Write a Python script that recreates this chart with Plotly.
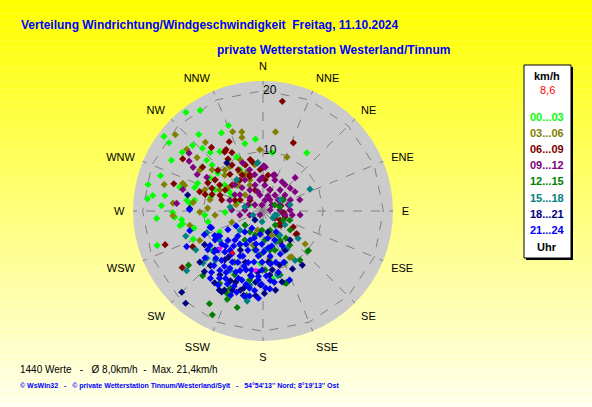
import numpy as np
import plotly.graph_objects as go

W, H = 592, 407

# wind direction (deg) / speed (km/h), grouped by time of day
dir_00_03 = [322, 328, 307, 306, 338, 354, 9, 37, 59, 283, 252, 266, 278, 273, 299, 289, 306, 313, 320, 332,
             345, 316, 286, 266, 261, 312, 310, 276, 334, 173, 304, 297, 294, 331, 326, 302, 279, 266, 244, 295,
             232, 260, 264, 276, 279, 269, 318, 324, 312, 306, 323, 278, 289, 183, 172, 285, 300, 315, 290, 256,
             248, 293, 259, 268]
spd_00_03 = [20.8, 19.7, 20.6, 19.3, 15.3, 12.0, 9.8, 12.1, 3.9, 19.6, 18.5, 17.7, 18.5, 16.9, 17.4, 18.0, 16.6, 16.0, 16.6, 14.7,
             11.6, 14.5, 14.4, 14.7, 13.5, 12.6, 9.8, 12.2, 10.0, 11.6, 7.7, 5.8, 8.7, 7.8, 10.3, 10.4, 11.5, 9.7, 8.0, 2.4,
             10.7, 14.0, 13.6, 19.3, 16.5, 15.0, 13.1, 12.2, 11.4, 12.5, 9.2, 12.8, 12.0, 8.7, 11.4, 9.0, 6.5, 6.0, 4.5, 11.8,
             12.5, 11.8, 9.3, 6.3]

dir_03_06 = [311, 345, 339, 9, 24, 309, 320, 285, 275, 267, 309, 309, 323, 329, 337, 243, 245, 128, 148, 196,
             160, 150, 296, 288, 282, 316, 313, 312, 265, 290, 333, 269, 259, 250, 350, 336, 357, 303, 288, 0,
             289, 344, 317, 338, 277, 195, 169, 172, 303, 303, 283, 273, 333]
spd_03_06 = [19.3, 13.6, 14.1, 13.3, 9.8, 16.3, 14.9, 17.0, 15.0, 15.0, 14.1, 10.9, 9.2, 7.5, 5.6, 13.1, 11.6, 8.9, 9.0, 5.9,
             4.3, 8.9, 8.0, 5.8, 9.0, 6.0, 8.7, 4.0, 8.0, 10.3, 4.8, 10.5, 12.4, 5.5, 7.8, 9.3, 10.2, 12.5, 13.7, 7.2,
             14.1, 12.7, 9.3, 7.0, 11.7, 3.3, 6.1, 7.9, 7.0, 9.5, 4.6, 9.2, 6.7]

dir_06_09 = [10, 24, 329, 332, 321, 303, 306, 235, 251, 118, 125, 98, 118, 128, 287, 318, 323, 340, 339, 290,
             291, 339, 356, 4, 18, 303, 299, 286, 310, 105, 120, 131, 151, 124, 243, 334, 8, 327, 326, 329,
             339, 297, 287, 301, 288, 348, 0, 74, 95, 310, 330, 285, 294, 326, 346, 296, 312]
spd_06_09 = [18.5, 12.4, 11.9, 11.0, 13.6, 15.9, 12.4, 16.4, 17.2, 5.7, 6.7, 3.4, 3.2, 3.8, 15.5, 8.2, 6.4, 6.4, 3.7, 7.6,
             5.0, 8.2, 6.9, 5.2, 3.7, 9.5, 7.2, 10.0, 2.8, 3.8, 2.3, 3.5, 5.9, 6.8, 13.1, 12.8, 6.0, 11.7, 10.4, 8.0,
             6.1, 10.3, 11.0, 8.4, 8.9, 8.3, 5.5, 3.1, 3.5, 6.7, 6.9, 7.1, 9.3, 9.2, 8.8, 4.2, 10.1]

dir_09_12 = [308, 302, 0, 16, 301, 275, 285, 304, 337, 1, 328, 349, 32, 71, 307, 273, 305, 4, 37, 54,
             88, 82, 313, 347, 40, 68, 288, 253, 217, 21, 59, 96, 59, 3, 299, 10, 39, 343, 330, 50,
             73, 100, 18, 354, 300, 18, 342, 44, 260, 345, 18, 54, 76, 350, 315, 318, 358, 33, 56,
             98, 292, 272, 87]
spd_09_12 = [15.6, 13.7, 7.3, 6.2, 10.9, 14.4, 13.8, 14.8, 8.7, 7.5, 4.1, 2.7, 2.2, 3.0, 1.7, 3.0, 4.7, 4.3, 3.3, 4.5,
             4.5, 1.2, 6.4, 6.2, 5.7, 4.9, 5.8, 2.3, 0.8, 5.5, 6.2, 6.2, 3.9, 7.3, 12.5, 1.8, 4.5, 4.5, 6.0, 5.9,
             6.4, 3.7, 3.7, 5.2, 5.4, 6.3, 7.2, 7.7, 3.9, 3.3, 2.6, 3.1, 4.3, 1.0, 3.1, 5.2, 5.5, 5.8, 1.8,
             4.9, 2.7, 5.2, 2.8]

dir_12_15 = [206, 210, 195, 234, 223, 204, 132, 163, 202, 160, 150, 198, 232, 163, 142, 184, 157, 214, 178, 125,
             114, 191, 143, 204, 211, 77, 61, 109, 63, 131, 162, 191, 203, 176, 192, 212, 139, 172, 209, 165,
             183, 148, 140, 212, 170]
spd_12_15 = [19.2, 17.8, 16.6, 15.3, 14.7, 14.9, 10.0, 12.5, 15.8, 3.4, 5.6, 4.2, 3.8, 6.8, 7.2, 7.3, 9.3, 6.8, 9.8, 5.5,
             3.7, 11.7, 10.2, 11.6, 14.0, 2.9, 3.8, 4.7, 2.2, 10.0, 12.6, 14.3, 14.0, 4.8, 6.6, 5.7, 3.1, 8.6, 9.7, 11.0,
             3.2, 4.7, 5.9, 4.1, 6.6]

dir_15_18 = [65, 128, 151, 167, 147, 157, 232, 252, 190, 229, 167, 148, 57, 77, 109, 150, 145, 125, 106, 354,
             320, 277, 353, 283, 248, 236, 224, 190, 177, 230, 249, 209, 240, 230, 185, 122]
spd_15_18 = [8.6, 7.4, 7.2, 10.8, 9.8, 5.6, 16.1, 13.5, 15.2, 13.2, 11.0, 7.5, 3.4, 4.6, 2.1, 7.3, 4.9, 2.0, 2.4, 8.1,
             6.8, 5.5, 8.0, 3.1, 1.8, 8.7, 11.4, 12.5, 6.5, 5.0, 10.0, 11.3, 12.9, 12.2, 1.8, 4.3]

dir_18_21 = [225, 220, 144, 153, 207, 194, 323, 282, 272, 205, 196, 214, 191, 182, 174, 163, 224, 218, 199, 231,
             240, 151, 137, 201, 185, 171, 231, 174, 210, 185, 209, 222, 167, 206, 193, 179, 165, 214, 201,
             186, 171, 224, 217]
spd_18_21 = [19.1, 20.0, 11.1, 10.8, 15.1, 13.2, 10.0, 12.8, 12.2, 12.8, 13.7, 12.8, 10.9, 12.3, 10.7, 9.4, 12.6, 10.3, 9.0, 10.3,
             11.2, 7.5, 6.6, 14.1, 14.1, 13.3, 13.5, 8.5, 7.5, 10.2, 15.0, 2.0, 3.6, 14.6, 14.4, 13.7, 12.2, 14.4, 12.7,
             11.9, 9.9, 14.0, 9.6]

dir_21_24 = [248, 252, 240, 242, 241, 221, 213, 187, 170, 148, 237, 229, 227, 216, 215, 201, 192, 179, 166, 158,
             231, 222, 220, 210, 206, 196, 190, 181, 172, 166, 218, 211, 209, 201, 197, 190, 184, 178, 171, 201,
             192, 183, 223, 224, 204, 204, 204, 230, 239, 186, 177, 190, 216, 201, 158, 159, 175, 255, 245, 253,
             243, 271, 235, 225, 215, 211, 207, 196, 190, 181, 171, 166, 220, 213, 206, 200, 193, 186, 181, 174,
             198, 189, 231, 220, 225, 207, 198, 182, 172, 158, 151, 241, 199, 191, 211, 220, 184, 230]
spd_21_24 = [10.5, 9.0, 8.3, 6.6, 5.1, 4.6, 3.4, 3.9, 4.6, 4.1, 10.5, 9.9, 8.5, 8.8, 6.7, 7.0, 5.6, 6.8, 6.0, 7.7,
             12.4, 12.2, 10.7, 11.0, 9.5, 10.2, 8.6, 9.8, 8.9, 10.5, 14.2, 14.4, 12.8, 13.4, 12.0, 13.0, 11.5, 12.8, 12.0, 15.0,
             14.5, 14.5, 9.3, 6.7, 8.2, 5.3, 11.1, 7.6, 9.3, 7.5, 10.8, 11.0, 12.2, 10.6, 9.2, 12.3, 13.0, 12.6, 14.0, 9.2,
             9.0, 12.2, 11.2, 11.1, 11.2, 9.9, 8.4, 8.9, 6.6, 8.5, 7.6, 8.8, 13.3, 13.3, 13.5, 11.9, 12.5, 13.3, 12.2, 11.6,
             14.2, 14.3, 8.8, 8.5, 5.9, 6.2, 4.7, 5.5, 6.2, 5.2, 6.6, 8.6, 9.7, 10.0, 11.9, 7.6, 10.9, 10.6]

dir_extra = [229, 187]
spd_extra = [9.5, 9.9]
dir_current = [216]
spd_current = [8.6]

hour_labels = ["00...03", "03...06", "06...09", "09...12", "12...15", "15...18", "18...21", "21...24"]
hour_colors = ["#00ff00", "#808000", "#800000", "#800080", "#008000", "#008080", "#000080", "#0000ff"]
group_dirs = [dir_00_03, dir_03_06, dir_06_09, dir_09_12, dir_12_15, dir_15_18, dir_18_21, dir_21_24]
group_spds = [spd_00_03, spd_03_06, spd_06_09, spd_09_12, spd_12_15, spd_15_18, spd_18_21, spd_21_24]

compass_labels = ["N", "NNE", "NE", "ENE", "E", "ESE", "SE", "SSE",
                  "S", "SSW", "SW", "WSW", "W", "WNW", "NW", "NNW"]
compass_deg = list(np.arange(16) * 22.5)
ring_speeds = [10, 20]
speed_top = 21.6

title_1 = "Verteilung Windrichtung/Windgeschwindigkeit  Freitag, 11.10.2024"
title_2 = "private Wetterstation Westerland/Tinnum"
footer_1 = "1440 Werte   -   Ø 8,0km/h  -  Max. 21,4km/h"
footer_2 = "© WsWin32   -   © private Wetterstation Tinnum/Westerland/Sylt   -   54°54'13'' Nord; 8°19'13'' Ost"
current_label = "8,6"

SANS = "Liberation Sans, Arial"


def px(x):
    return x / W


def py(y):
    return 1 - y / H


fig = go.Figure()

for ring in ring_speeds:
    fig.add_trace(go.Scatterpolar(
        r=[ring] * (len(compass_deg) + 1),
        theta=compass_deg + [compass_deg[0]],
        mode='lines',
        line=dict(color='#808080', width=1, dash='dash'),
        hoverinfo='skip', showlegend=False
    ))

for dirs, spds, color, label in zip(group_dirs, group_spds, hour_colors, hour_labels):
    fig.add_trace(go.Scatterpolar(
        r=spds, theta=dirs, mode='markers', name=label,
        marker=dict(symbol='diamond', size=5.5, color=color, line=dict(width=0)),
        showlegend=False
    ))

fig.add_trace(go.Scatterpolar(
    r=spd_extra, theta=dir_extra, mode='markers',
    marker=dict(symbol='diamond', size=4, color='#ff00ff', line=dict(width=0)),
    showlegend=False
))
fig.add_trace(go.Scatterpolar(
    r=spd_current, theta=dir_current, mode='markers',
    marker=dict(symbol='diamond', size=4, color='#ff0000', line=dict(width=0)),
    showlegend=False
))

# speed labels sit just right of the north spoke
fig.add_trace(go.Scatterpolar(
    r=ring_speeds, theta=[0] * len(ring_speeds), mode='text',
    text=[str(v) for v in ring_speeds], textposition='middle right',
    textfont=dict(family=SANS, size=12, color='black'),
    hoverinfo='skip', showlegend=False
))

# vertical yellow gradient behind everything
shapes = []
n_strips = 60
for i in range(n_strips):
    t = i / (n_strips - 1)
    b = int(round(238 * t))
    shapes.append(dict(type='rect', xref='paper', yref='paper', layer='below',
                       x0=0, x1=1, y0=1 - (i + 1) / n_strips, y1=1 - i / n_strips,
                       fillcolor=f'rgb(255,255,{b})', line=dict(width=0)))

# legend box with shadow
shapes.append(dict(type='rect', xref='paper', yref='paper', layer='below',
                   x0=px(526), x1=px(573), y0=py(260), y1=py(67),
                   fillcolor='black', line=dict(width=0)))
shapes.append(dict(type='rect', xref='paper', yref='paper', layer='below',
                   x0=px(524), x1=px(571), y0=py(258), y1=py(65),
                   fillcolor='white', line=dict(color='black', width=1)))

annotations = [
    dict(text=f"<b>{title_1}</b>", x=px(19), y=py(25), xanchor='left', yanchor='middle',
         font=dict(family=SANS, size=12, color='#0000ff')),
    dict(text=f"<b>{title_2}</b>", x=px(215), y=py(50), xanchor='left', yanchor='middle',
         font=dict(family=SANS, size=12, color='#0000ff')),
    dict(text=footer_1, x=px(18), y=py(369), xanchor='left', yanchor='middle',
         font=dict(family=SANS, size=10, color='black')),
    dict(text=f"<b>{footer_2}</b>", x=px(18), y=py(386), xanchor='left', yanchor='middle',
         font=dict(family=SANS, size=7, color='#0000ff')),
    dict(text="<b>km/h</b>", x=px(547), y=py(76), xanchor='center', yanchor='middle',
         font=dict(family=SANS, size=11, color='black')),
    dict(text=current_label, x=px(547), y=py(90), xanchor='center', yanchor='middle',
         font=dict(family=SANS, size=11, color='#ff0000')),
    dict(text="<b>Uhr</b>", x=px(547), y=py(247), xanchor='center', yanchor='middle',
         font=dict(family=SANS, size=11, color='black')),
]
for k, (label, color) in enumerate(zip(hour_labels, hour_colors)):
    annotations.append(dict(text=f"<b>{label}</b>", x=px(547), y=py(117 + 16.1 * k),
                            xanchor='center', yanchor='middle',
                            font=dict(family=SANS, size=11, color=color)))
for a in annotations:
    a.update(xref='paper', yref='paper', showarrow=False)

fig.update_layout(
    width=W, height=H,
    margin=dict(l=0, r=0, t=0, b=0),
    paper_bgcolor='#ffff80',
    shapes=shapes,
    annotations=annotations,
    polar=dict(
        domain=dict(x=[px(133), px(393)], y=[py(341), py(81)]),
        bgcolor='#cbcbcb',
        angularaxis=dict(
            rotation=90, direction='clockwise',
            tickmode='array', tickvals=compass_deg, ticktext=compass_labels,
            showgrid=True, gridcolor='#808080', griddash='dash', gridwidth=1,
            showline=False, ticks='outside', ticklen=6, tickcolor='rgba(0,0,0,0)',
            tickfont=dict(family=SANS, size=11, color='black'),
        ),
        radialaxis=dict(
            range=[0, speed_top], showticklabels=False,
            showgrid=False, showline=False, ticks='',
        ),
    ),
)

fig.write_html("out.html", config={'displayModeBar': False},
               post_script="document.body.style.margin='0px';")
